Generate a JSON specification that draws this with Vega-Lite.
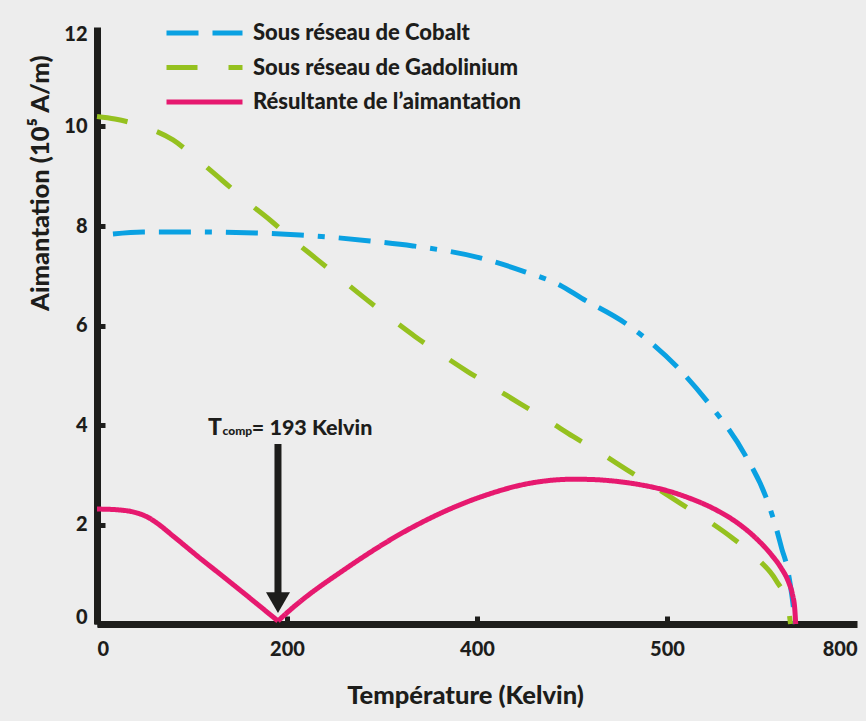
{
  "$schema": "https://vega.github.io/schema/vega-lite/v6.json",
  "width": 760,
  "height": 597,
  "autosize": {"type": "none"},
  "padding": {"left": 97, "top": 27, "right": 9, "bottom": 97},
  "background": "#ededed",
  "config": {
    "view": {"stroke": null},
    "font": "Lato, DejaVu Sans Condensed, sans-serif"
  },
  "datasets": {
    "curves": [
      {"s": "Sous réseau de Cobalt", "seg": "a", "T": 16.8, "M": 7.84},
      {"s": "Sous réseau de Cobalt", "seg": "a", "T": 48.4, "M": 7.88},
      {"s": "Sous réseau de Cobalt", "seg": "a", "T": 97.9, "M": 7.88},
      {"s": "Sous réseau de Cobalt", "seg": "a", "T": 168.4, "M": 7.86},
      {"s": "Sous réseau de Cobalt", "seg": "a", "T": 213.7, "M": 7.82},
      {"s": "Sous réseau de Cobalt", "seg": "a", "T": 287.4, "M": 7.7},
      {"s": "Sous réseau de Cobalt", "seg": "a", "T": 332.6, "M": 7.6},
      {"s": "Sous réseau de Cobalt", "seg": "a", "T": 403.2, "M": 7.36},
      {"s": "Sous réseau de Cobalt", "seg": "a", "T": 450.5, "M": 7.08},
      {"s": "Sous réseau de Cobalt", "seg": "a", "T": 487.4, "M": 6.81},
      {"s": "Sous réseau de Cobalt", "seg": "a", "T": 510, "M": 6.55},
      {"s": "Sous réseau de Cobalt", "seg": "a", "T": 555.8, "M": 6.05},
      {"s": "Sous réseau de Cobalt", "seg": "a", "T": 610.5, "M": 5.17},
      {"s": "Sous réseau de Cobalt", "seg": "a", "T": 642.1, "M": 4.48},
      {"s": "Sous réseau de Cobalt", "seg": "a", "T": 682.1, "M": 3.4},
      {"s": "Sous réseau de Cobalt", "seg": "a", "T": 704.2, "M": 2.55},
      {"s": "Sous réseau de Cobalt", "seg": "a", "T": 716.1, "M": 1.85},
      {"s": "Sous réseau de Cobalt", "seg": "a", "T": 721, "M": 1.5},
      {"s": "Sous réseau de Cobalt", "seg": "a", "T": 726, "M": 1.18},
      {"s": "Sous réseau de Cobalt", "seg": "a", "T": 730, "M": 0.76},
      {"s": "Sous réseau de Cobalt", "seg": "a", "T": 733, "M": 0.34},
      {"s": "Sous réseau de Cobalt", "seg": "a", "T": 734.8, "M": 0},
      {"s": "Sous réseau de Gadolinium", "seg": "a", "T": 0, "M": 10.2},
      {"s": "Sous réseau de Gadolinium", "seg": "a", "T": 18.9, "M": 10.15},
      {"s": "Sous réseau de Gadolinium", "seg": "a", "T": 50.5, "M": 9.99},
      {"s": "Sous réseau de Gadolinium", "seg": "a", "T": 80, "M": 9.73},
      {"s": "Sous réseau de Gadolinium", "seg": "a", "T": 106.3, "M": 9.33},
      {"s": "Sous réseau de Gadolinium", "seg": "a", "T": 131.6, "M": 8.92},
      {"s": "Sous réseau de Gadolinium", "seg": "a", "T": 155.8, "M": 8.52},
      {"s": "Sous réseau de Gadolinium", "seg": "a", "T": 182.1, "M": 8.12},
      {"s": "Sous réseau de Gadolinium", "seg": "a", "T": 206.3, "M": 7.72},
      {"s": "Sous réseau de Gadolinium", "seg": "a", "T": 231.6, "M": 7.33},
      {"s": "Sous réseau de Gadolinium", "seg": "a", "T": 257.9, "M": 6.92},
      {"s": "Sous réseau de Gadolinium", "seg": "a", "T": 283.2, "M": 6.53},
      {"s": "Sous réseau de Gadolinium", "seg": "a", "T": 309.5, "M": 6.14},
      {"s": "Sous réseau de Gadolinium", "seg": "a", "T": 334.7, "M": 5.78},
      {"s": "Sous réseau de Gadolinium", "seg": "a", "T": 363.2, "M": 5.41},
      {"s": "Sous réseau de Gadolinium", "seg": "a", "T": 390.5, "M": 5.07},
      {"s": "Sous réseau de Gadolinium", "seg": "a", "T": 418.9, "M": 4.74},
      {"s": "Sous réseau de Gadolinium", "seg": "a", "T": 445.3, "M": 4.43},
      {"s": "Sous réseau de Gadolinium", "seg": "a", "T": 474.7, "M": 4.09},
      {"s": "Sous réseau de Gadolinium", "seg": "a", "T": 501.1, "M": 3.77},
      {"s": "Sous réseau de Gadolinium", "seg": "a", "T": 531.6, "M": 3.42},
      {"s": "Sous réseau de Gadolinium", "seg": "a", "T": 557.9, "M": 3.1},
      {"s": "Sous réseau de Gadolinium", "seg": "a", "T": 587.4, "M": 2.75},
      {"s": "Sous réseau de Gadolinium", "seg": "a", "T": 613.7, "M": 2.43},
      {"s": "Sous réseau de Gadolinium", "seg": "a", "T": 642.1, "M": 2.09},
      {"s": "Sous réseau de Gadolinium", "seg": "a", "T": 669.5, "M": 1.72},
      {"s": "Sous réseau de Gadolinium", "seg": "a", "T": 694.7, "M": 1.32},
      {"s": "Sous réseau de Gadolinium", "seg": "a", "T": 714.7, "M": 0.88},
      {"s": "Sous réseau de Gadolinium", "seg": "a", "T": 727.4, "M": 0.36},
      {"s": "Sous réseau de Gadolinium", "seg": "a", "T": 730, "M": 0},
      {"s": "Résultante de l’aimantation", "seg": "a", "T": 0, "M": 2.31},
      {"s": "Résultante de l’aimantation", "seg": "a", "T": 12, "M": 2.306},
      {"s": "Résultante de l’aimantation", "seg": "a", "T": 25, "M": 2.29},
      {"s": "Résultante de l’aimantation", "seg": "a", "T": 35, "M": 2.265},
      {"s": "Résultante de l’aimantation", "seg": "a", "T": 45, "M": 2.215},
      {"s": "Résultante de l’aimantation", "seg": "a", "T": 55, "M": 2.13},
      {"s": "Résultante de l’aimantation", "seg": "a", "T": 63, "M": 2.03},
      {"s": "Résultante de l’aimantation", "seg": "a", "T": 80, "M": 1.77},
      {"s": "Résultante de l’aimantation", "seg": "a", "T": 108, "M": 1.33},
      {"s": "Résultante de l’aimantation", "seg": "a", "T": 135, "M": 0.92},
      {"s": "Résultante de l’aimantation", "seg": "a", "T": 161, "M": 0.52},
      {"s": "Résultante de l’aimantation", "seg": "a", "T": 190.5, "M": 0.06},
      {"s": "Résultante de l’aimantation", "seg": "b", "T": 190.5, "M": 0.06},
      {"s": "Résultante de l’aimantation", "seg": "b", "T": 203.2, "M": 0.28},
      {"s": "Résultante de l’aimantation", "seg": "b", "T": 263.2, "M": 1.13},
      {"s": "Résultante de l’aimantation", "seg": "b", "T": 332.6, "M": 1.95},
      {"s": "Résultante de l’aimantation", "seg": "b", "T": 403.2, "M": 2.55},
      {"s": "Résultante de l’aimantation", "seg": "b", "T": 458.9, "M": 2.84},
      {"s": "Résultante de l’aimantation", "seg": "b", "T": 501.1, "M": 2.91},
      {"s": "Résultante de l’aimantation", "seg": "b", "T": 520, "M": 2.905},
      {"s": "Résultante de l’aimantation", "seg": "b", "T": 543, "M": 2.875},
      {"s": "Résultante de l’aimantation", "seg": "b", "T": 571.6, "M": 2.8},
      {"s": "Résultante de l’aimantation", "seg": "b", "T": 600, "M": 2.68},
      {"s": "Résultante de l’aimantation", "seg": "b", "T": 625, "M": 2.52},
      {"s": "Résultante de l’aimantation", "seg": "b", "T": 650, "M": 2.31},
      {"s": "Résultante de l’aimantation", "seg": "b", "T": 675, "M": 2.02},
      {"s": "Résultante de l’aimantation", "seg": "b", "T": 695, "M": 1.7},
      {"s": "Résultante de l’aimantation", "seg": "b", "T": 710, "M": 1.39},
      {"s": "Résultante de l’aimantation", "seg": "b", "T": 720, "M": 1.13},
      {"s": "Résultante de l’aimantation", "seg": "b", "T": 728, "M": 0.84},
      {"s": "Résultante de l’aimantation", "seg": "b", "T": 732, "M": 0.6},
      {"s": "Résultante de l’aimantation", "seg": "b", "T": 734.5, "M": 0.3},
      {"s": "Résultante de l’aimantation", "seg": "b", "T": 735.5, "M": 0}
    ]
  },
  "layer": [
    {
      "data": {"name": "curves"},
      "mark": {"type": "line", "strokeWidth": 5, "interpolate": "monotone", "strokeCap": "butt"},
      "encoding": {
        "x": {
          "field": "T", "type": "quantitative",
          "scale": {"domain": [0, 800], "nice": false},
          "axis": {
            "title": "Température (Kelvin)",
            "values": [0, 200, 400, 600, 800],
            "labelExpr": "datum.value == 600 ? '500' : datum.label",
            "grid": false,
            "domainColor": "#1d1d1b", "domainWidth": 7,
            "tickColor": "#1d1d1b", "tickWidth": 5, "tickSize": -8,
            "tickOpacity": {"condition": {"test": "datum.value == 800", "value": 0}, "value": 1},
            "labelFontSize": 20, "labelFontWeight": 900, "labelColor": "#1d1d1b", "labelPadding": 23,
            "titleFontSize": 25.5, "titleFontWeight": 900, "titleColor": "#1d1d1b",
            "titleX": 368, "titleY": 79, "titleBaseline": "alphabetic", "titleAlign": "center"
          }
        },
        "y": {
          "field": "M", "type": "quantitative",
          "scale": {"domain": [0, 12], "nice": false},
          "axis": {
            "title": "Aimantation (10⁵ A/m)",
            "values": [0, 2, 4, 6, 8, 10, 12],
            "grid": false,
            "domainColor": "#1d1d1b", "domainWidth": 7,
            "tickColor": "#1d1d1b", "tickWidth": 5, "tickSize": -8,
            "tickOpacity": {"condition": {"test": "datum.value == 12", "value": 0}, "value": 1},
            "labelFontSize": 20, "labelFontWeight": 900, "labelColor": "#1d1d1b", "labelPadding": 18,
            "labelFlush": true, "labelFlushOffset": 3,
            "titleFontSize": 25.5, "titleFontWeight": 900, "titleColor": "#1d1d1b",
            "titleAngle": -90, "titleX": -49, "titleY": 28, "titleAlign": "right", "titleBaseline": "alphabetic"
          }
        },
        "color": {
          "field": "s", "type": "nominal",
          "scale": {"domain": ["Sous réseau de Cobalt", "Sous réseau de Gadolinium", "Résultante de l’aimantation"], "range": ["#0aa1e2", "#95c11f", "#e6196f"]},
          "legend": {
            "title": null, "orient": "none", "legendX": 67, "legendY": -6,
            "symbolType": "M-1,0H7", "symbolSize": 361, "symbolStrokeWidth": 5,
            "labelFontSize": 22, "labelFontWeight": 900, "labelColor": "#1d1d1b",
            "labelOffset": 65, "rowPadding": 11.5, "labelLimit": 600,
            "encode": {
              "symbols": {
                "update": {
                  "strokeDash": {
                    "condition": [
                      {"test": "datum.value === 'Sous réseau de Cobalt'", "value": [16, 6, 31, 6, 16, 100]},
                      {"test": "datum.value === 'Sous réseau de Gadolinium'", "value": [16, 42, 16, 100]}
                    ],
                    "value": [1, 0]
                  }
                }
              }
            }
          }
        },
        "strokeDash": {
          "field": "s", "type": "nominal",
          "scale": {"domain": ["Sous réseau de Cobalt", "Sous réseau de Gadolinium", "Résultante de l’aimantation"], "range": [[32, 14, 32, 14, 7, 14], [31, 31], [1, 0]]},
          "legend": null
        },
        "detail": {"field": "seg"}
      }
    },
    {
      "data": {"values": [{"T": 190.5, "top": 3.62, "bottom": 0.62}]},
      "mark": {"type": "rule", "strokeWidth": 7, "color": "#1d1d1b", "strokeCap": "butt"},
      "encoding": {
        "x": {"field": "T", "type": "quantitative"},
        "y": {"field": "top", "type": "quantitative"},
        "y2": {"field": "bottom"}
      }
    },
    {
      "data": {"values": [{"T": 190.5, "M": 0.43}]},
      "mark": {"type": "point", "shape": "triangle-down", "filled": true, "size": 576, "color": "#1d1d1b", "opacity": 1},
      "encoding": {
        "x": {"field": "T", "type": "quantitative"},
        "y": {"field": "M", "type": "quantitative"}
      }
    },
    {
      "data": {"values": [{"T": 131.6, "M": 3.8, "label": "T"}]},
      "mark": {"type": "text", "align": "right", "baseline": "alphabetic", "fontSize": 23, "fontWeight": 900, "color": "#1d1d1b"},
      "encoding": {
        "x": {"field": "T", "type": "quantitative"},
        "y": {"field": "M", "type": "quantitative"},
        "text": {"field": "label"}
      }
    },
    {
      "data": {"values": [{"T": 163, "M": 3.8, "label": "= 193 Kelvin"}]},
      "mark": {"type": "text", "align": "left", "baseline": "alphabetic", "fontSize": 21.5, "fontWeight": 900, "color": "#1d1d1b"},
      "encoding": {
        "x": {"field": "T", "type": "quantitative"},
        "y": {"field": "M", "type": "quantitative"},
        "text": {"field": "label"}
      }
    },
    {
      "data": {"values": [{"T": 132.2, "M": 3.8, "label": "comp"}]},
      "mark": {"type": "text", "align": "left", "baseline": "alphabetic", "fontSize": 12, "fontWeight": 900, "color": "#1d1d1b"},
      "encoding": {
        "x": {"field": "T", "type": "quantitative"},
        "y": {"field": "M", "type": "quantitative"},
        "text": {"field": "label"}
      }
    }
  ]
}
